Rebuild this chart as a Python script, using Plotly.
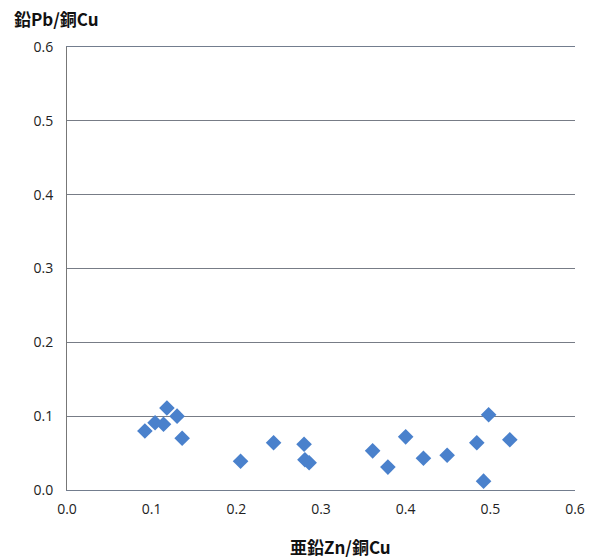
import plotly.graph_objects as go

zn_cu = [0.092, 0.104, 0.114, 0.118, 0.130, 0.136, 0.205, 0.244, 0.280, 0.281,
         0.286, 0.361, 0.379, 0.400, 0.421, 0.449, 0.484, 0.492, 0.498, 0.523]
pb_cu = [0.080, 0.091, 0.089, 0.111, 0.100, 0.070, 0.039, 0.064, 0.062, 0.041,
         0.037, 0.053, 0.031, 0.072, 0.043, 0.047, 0.064, 0.012, 0.102, 0.068]

x_title = "亜鉛Zn/銅Cu"
y_title = "鉛Pb/銅Cu"

W, H = 595, 560
L, R, T, B = 67, 20, 47, 70

fig = go.Figure()
fig.add_trace(go.Scatter(
    x=zn_cu, y=pb_cu, mode="markers",
    marker=dict(symbol="diamond", size=12, color="#4a81cc",
                line=dict(width=0)),
    showlegend=False,
))

tick_font = dict(family="Open Sans, Noto Sans CJK JP, sans-serif", size=14, color="#222")
fig.update_xaxes(range=[0, 0.6], dtick=0.1, tick0=0, tickformat=".1f",
                 showgrid=False, zeroline=False, showline=True, mirror=True,
                 linecolor="#737d8e", linewidth=1.2, ticks="", tickfont=tick_font,
                 ticklabelstandoff=6, automargin=False)
fig.update_yaxes(range=[0, 0.6], dtick=0.1, tick0=0, tickformat=".1f",
                 showgrid=True, gridcolor="#777c86", gridwidth=1.2,
                 zeroline=False, showline=True, linecolor="#777", linewidth=1,
                 ticks="", tickfont=tick_font, ticklabelstandoff=10, automargin=False)

pw = W - L - R
ph = H - T - B
title_font = dict(family="Noto Sans CJK JP, sans-serif", size=17, color="#111")
fig.update_layout(
    width=W, height=H,
    margin=dict(l=L, r=R, t=T, b=B, autoexpand=False),
    paper_bgcolor="white", plot_bgcolor="white",
    annotations=[
        dict(text="<b>%s</b>" % y_title, xref="paper", yref="paper",
             x=(12 - L) / pw, y=1 + (T - 18) / ph, xanchor="left", yanchor="middle",
             showarrow=False, font=title_font),
        dict(text="<b>%s</b>" % x_title, xref="paper", yref="paper",
             x=(340 - L) / pw, y=-(546 - (H - B)) / ph, xanchor="center", yanchor="middle",
             showarrow=False, font=title_font),
    ],
)

fig.write_html("out.html", config={"displayModeBar": False},
               post_script="document.body.style.margin='0';document.body.style.overflow='hidden';")
